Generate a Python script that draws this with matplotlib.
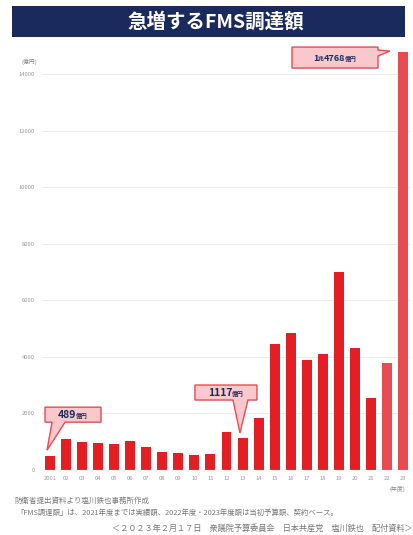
import matplotlib
matplotlib.use('Agg')
import matplotlib.pyplot as plt
from matplotlib.patches import Rectangle, Polygon
from matplotlib.transforms import IdentityTransform

plt.rcParams['font.family'] = ['Noto Sans CJK JP', 'DejaVu Sans']

# data (億円)
years = ['2001', '02', '03', '04', '05', '06', '07', '08', '09', '10', '11', '12',
         '13', '14', '15', '16', '17', '18', '19', '20', '21', '22', '23']
amounts = [489, 1084, 1000, 965, 918, 1024, 824, 624, 600, 530, 553, 1353,
           1117, 1837, 4473, 4858, 3882, 4102, 7013, 4320, 2543, 3797, 14768]
budget_years = ['22', '23']   # 当初予算額
yticks = [0, 2000, 4000, 6000, 8000, 10000, 12000, 14000]

NAVY = '#1b2a5c'
RED = '#e31e24'
RED_LIGHT = '#e84b51'
PINK = '#f9c8cc'
W, H = 414, 535


def callout(fig, ax, idx, tip_off, box, base, parts, side='bottom'):
    # tip anchored on the bar top, box offsets in pixels relative to tip
    px, py = ax.transData.transform((idx, amounts[idx]))
    tx, ty = px + tip_off[0], py + tip_off[1]
    L, R = tx + box[0], tx + box[1]
    B, T = ty + box[2], ty + box[3]
    if side == 'bottom':
        pts = [(L, B), (tx + base[0], B), (tx, ty), (tx + base[1], B), (R, B), (R, T), (L, T)]
    else:
        pts = [(L, B), (R, B), (R, ty + base[0]), (tx, ty), (R, ty + base[1]), (R, T), (L, T)]
    fig.add_artist(Polygon(pts, closed=True, facecolor=PINK, edgecolor=RED_LIGHT,
                           lw=1.0, transform=IdentityTransform()))
    renderer = fig.canvas.get_renderer()
    texts = []
    for s, size in parts:
        t = fig.text(0, 0, s, fontsize=size, fontweight='bold', color=NAVY,
                     va='baseline', ha='left', transform=IdentityTransform())
        texts.append(t)
    widths = [t.get_window_extent(renderer).width for t in texts]
    x = (L + R) / 2 - sum(widths) / 2
    ybase = (B + T) / 2 - 3.2
    for t, w in zip(texts, widths):
        t.set_position((x, ybase))
        x += w


fig = plt.figure(figsize=(W / 100, H / 100), dpi=100)
fig.patch.set_facecolor('white')

# title bar
fig.add_artist(Rectangle((12 / W, (H - 37) / H), 393 / W, 31 / H,
                         transform=fig.transFigure, facecolor=NAVY, edgecolor='none'))
fig.text(216 / W, (H - 22) / H, '急増するFMS調達額', color='white', fontsize=14,
         fontweight='bold', ha='center', va='center')

ax = fig.add_axes([42 / W, 65 / H, 369 / W, 424.1 / H])
colors = [RED_LIGHT if y in budget_years else RED for y in years]
ax.bar(range(len(years)), amounts, width=0.62, color=colors, zorder=3)
ax.set_xlim(-0.5, len(years) - 0.5)
ax.set_ylim(0, 15000)
ax.set_yticks(yticks)
ax.set_yticklabels([str(v) for v in yticks])
ax.set_xticks(range(len(years)))
ax.set_xticklabels(years)
ax.tick_params(axis='both', length=0, labelsize=4.2, colors='#999999')
ax.tick_params(axis='y', pad=5)
ax.tick_params(axis='x', pad=4)
ax.grid(axis='y', color='#ececec', lw=0.8, zorder=0)
for s in ax.spines.values():
    s.set_visible(False)
ax.axhline(0, color='#9aa6c4', lw=0.9, zorder=4)

fig.text(22 / W, (H - 62) / H, '(億円)', fontsize=4.2, color='#888888', va='center')
fig.text(405 / W, (H - 489) / H, '(年度)', fontsize=4.2, color='#888888', va='center', ha='right')

# footnotes
fig.text(14 / W, (H - 501) / H, '防衛省提出資料より塩川鉄也事務所作成',
         fontsize=5.4, color='#777777', va='center')
fig.text(16 / W, (H - 513) / H,
         '「FMS調達額」は、2021年度までは実績額、2022年度・2023年度額は当初予算額、契約ベース。',
         fontsize=5.3, color='#777777', va='center')
fig.text(112 / W, (H - 528) / H,
         '＜２０２３年２月１７日　衆議院予算委員会　日本共産党　塩川鉄也　配付資料＞',
         fontsize=5.9, color='#777777', va='center')

fig.canvas.draw()
callout(fig, ax, 0, (-3, 6), (-2, 54, 28, 43), (5, 18),
        [('489', 7.5), ('億円', 4.2)])
callout(fig, ax, 12, (-2.6, 5.4), (-45, 17, 33, 48), (-7, 8),
        [('1117', 7.5), ('億円', 4.2)])
callout(fig, ax, 22, (-13, 1.4), (-98, -12, -17, 4), (-5, 1),
        [('1', 6.5), ('兆', 4.2), ('4768', 6.5), ('億円', 4.2)], side='right')

fig.savefig('out.png', dpi=100)
